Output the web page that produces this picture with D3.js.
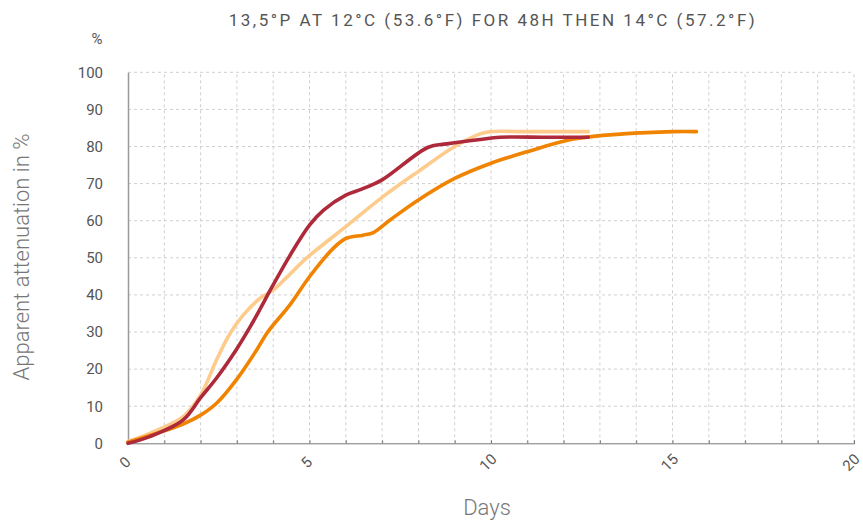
<!DOCTYPE html>
<html><head><meta charset="utf-8">
<script src="https://cdn.jsdelivr.net/npm/d3@7"></script>
<style>
body{margin:0;background:#fff;}
text{font-family:Roboto,"DejaVu Sans",sans-serif;}
</style></head>
<body><svg id="c" width="863" height="524"></svg>
<script>
const title = "13,5°P AT 12°C (53.6°F) FOR 48H THEN 14°C (57.2°F)";
const xTicks = [0,5,10,15,20];
const yTicks = [0,10,20,30,40,50,60,70,80,90,100];

const lightDays = [0,0.6,1.52,2.0,2.44,2.81,3.18,3.64,4.0,4.4,4.88,6.0,7.0,8.0,9.0,9.7,10.0,11.0,12.68];
const lightVals = [0.5,2.7,7.2,13.0,22.5,29.6,34.6,39.1,41.3,45.0,49.6,58.4,66.3,73.3,80,83.4,84,84,84];

const orangeDays = [0,0.6,1.52,2.0,2.44,3.0,3.54,3.85,4.46,5.0,5.66,6.0,6.48,6.76,7.22,8.0,9.0,10.0,11.0,12.27,13.64,15.02,15.66];
const orangeVals = [0.3,2.1,5.2,7.6,10.8,17.3,25.1,30.0,37.3,44.9,52.6,55.2,56.1,56.8,60.2,65.6,71.4,75.5,78.6,82,83.4,84,84];

const redDays = [0,0.6,1.52,2.0,2.44,3.0,3.36,3.64,3.96,4.46,5.0,5.38,6.0,6.44,7.0,8.27,8.78,9.7,10.25,11.5,12.68];
const redVals = [0,1.8,6.3,12.3,17.6,25.5,31.3,36.2,42.0,50.6,58.8,62.8,66.9,68.5,71,79.8,80.7,81.9,82.5,82.5,82.5];

const series = [
  {days: lightDays, vals: lightVals, color: "#FDCB8C"},
  {days: orangeDays, vals: orangeVals, color: "#F08300"},
  {days: redDays, vals: redVals, color: "#AE2A3B"}
];

const svg = d3.select("#c");
const mLeft = 128, mRight = 854, mTop = 72.3, mBottom = 443.3;
const x = d3.scaleLinear().domain([0,20]).range([mLeft,mRight]);
const y = d3.scaleLinear().domain([0,100]).range([mBottom,mTop]);

// grid
const g = svg.append("g");
g.selectAll(".vg").data(d3.range(1,21)).join("line")
  .attr("x1",d=>x(d)).attr("x2",d=>x(d)).attr("y1",y(0)).attr("y2",y(100))
  .attr("stroke","#cfcfcf").attr("stroke-dasharray","3,3").attr("stroke-width",1);
g.selectAll(".hg").data(yTicks.slice(1)).join("line")
  .attr("x1",x(0)).attr("x2",x(20)).attr("y1",d=>y(d)).attr("y2",d=>y(d))
  .attr("stroke","#cfcfcf").attr("stroke-dasharray","3,3").attr("stroke-width",1);

// x axis
const xa = svg.append("g").attr("transform",`translate(0,${mBottom})`)
  .call(d3.axisBottom(x).tickValues(d3.range(0,21)).tickSize(-3).tickFormat(""));
xa.select(".domain").attr("stroke","#777");
xa.selectAll(".tick line").attr("stroke","#777");
svg.append("g").selectAll("text").data(xTicks).join("text")
  .attr("transform",d=>`translate(${x(d)-3},${mBottom+19}) rotate(-45)`)
  .attr("text-anchor","middle").attr("dy","0.35em")
  .attr("font-size",15).attr("fill","#555").text(d=>d);

// y axis
const ya = svg.append("g").attr("transform",`translate(${mLeft},0)`)
  .call(d3.axisLeft(y).tickValues(yTicks).tickSize(0).tickPadding(25));
ya.select(".domain").attr("stroke","#999").attr("stroke-width",1.5);
ya.selectAll(".tick text").attr("font-size",15).attr("fill","#555")
  .style("font-family","Roboto,sans-serif");

// lines
const line = d3.line().curve(d3.curveCatmullRom.alpha(0.5));
series.forEach(s=>{
  svg.append("path")
    .attr("d", line(s.days.map((d,i)=>[x(d), y(s.vals[i])])))
    .attr("fill","none").attr("stroke",s.color).attr("stroke-width",3.6)
    .attr("stroke-linecap","round").attr("stroke-linejoin","round");
});

// texts
svg.append("text").attr("x",493).attr("y",26).attr("text-anchor","middle")
  .attr("font-size",17).attr("letter-spacing",2.5).attr("fill","#555").text(title);
svg.append("text").attr("x",97).attr("y",44).attr("text-anchor","middle")
  .attr("font-size",15).attr("fill","#555").text("%");
svg.append("text").attr("transform",`translate(29,257) rotate(-90)`)
  .attr("text-anchor","middle").attr("font-size",22).attr("font-weight",300)
  .attr("fill","#777").text("Apparent attenuation in %");
svg.append("text").attr("x",487).attr("y",515).attr("text-anchor","middle")
  .attr("font-size",22).attr("font-weight",300).attr("fill","#777").text("Days");
</script></body></html>
